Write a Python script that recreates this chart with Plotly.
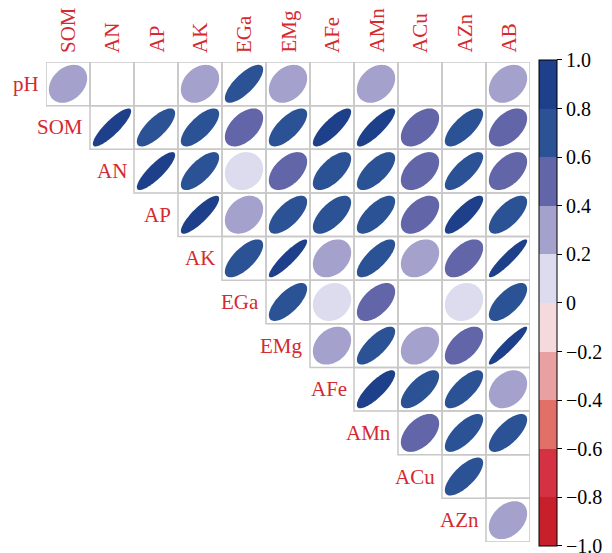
import numpy as np
import plotly.graph_objects as go

# Variables on the two axes of the upper-triangular correlation matrix
row_vars = ["pH", "SOM", "AN", "AP", "AK", "EGa", "EMg", "AFe", "AMn", "ACu", "AZn"]
col_vars = ["SOM", "AN", "AP", "AK", "EGa", "EMg", "AFe", "AMn", "ACu", "AZn", "AB"]

# Correlation coefficients for each row (None = not significant, left blank)
r_pH  = [0.30, None, None, 0.30, 0.75, 0.30, None, 0.30, None, None, 0.30]
r_SOM = [0.86, 0.75, 0.72, 0.50, 0.70, 0.82, 0.85, 0.50, 0.72, 0.48]
r_AN  = [0.85, 0.72, 0.12, 0.50, 0.65, 0.68, 0.48, 0.75, 0.50]
r_AP  = [0.85, 0.30, 0.68, 0.65, 0.70, 0.50, 0.82, 0.68]
r_AK  = [0.70, 0.90, 0.30, 0.75, 0.30, 0.55, 0.92]
r_EGa = [0.70, 0.15, 0.55, None, 0.15, 0.68]
r_EMg = [0.30, 0.75, 0.30, 0.55, 0.93]
r_AFe = [0.82, 0.70, 0.72, 0.30]
r_AMn = [0.50, 0.72, 0.70]
r_ACu = [0.72, None]
r_AZn = [0.35]
rows = [r_pH, r_SOM, r_AN, r_AP, r_AK, r_EGa, r_EMg, r_AFe, r_AMn, r_ACu, r_AZn]

# Ten-step diverging palette, from -1 (red) to +1 (navy)
bin_colors = ["#C8202A", "#D43242", "#E07068", "#E8A0A0", "#F4DADC",
              "#DCDCEE", "#A4A2CC", "#6266A8", "#2A5294", "#1E408A"]
cbar_ticks = [-0.9999, -0.8, -0.6, -0.4, -0.2, 0.0, 0.2, 0.4, 0.6, 0.8, 0.9999]
cbar_labels = ["\u22121.0", "\u22120.8", "\u22120.6", "\u22120.4", "\u22120.2", "0",
               "0.2", "0.4", "0.6", "0.8", "1.0"]

LABEL_RED = "#D42A30"
FONT = "Liberation Serif, Times New Roman, serif"


def color_for(r):
    k = int(np.floor((r + 1) / 0.2))
    return bin_colors[min(max(k, 0), 9)]


def ellipse_path(cx, cy, rho, scale=0.87, n=80):
    d = np.arccos(rho) / 2
    t = np.linspace(0, 2 * np.pi, n)
    ex = cx + scale * np.cos(t + d) / 2
    ey = cy - scale * np.cos(t - d) / 2  # y axis runs downward
    pts = " L ".join(f"{a:.4f},{b:.4f}" for a, b in zip(ex, ey))
    return "M " + pts + " Z"


shapes = []
annotations = []
for ri, vals in enumerate(rows):
    for k, v in enumerate(vals):
        ci = ri + k
        shapes.append(dict(type="rect", xref="x", yref="y",
                           x0=ci - 0.5, x1=ci + 0.5, y0=ri - 0.5, y1=ri + 0.5,
                           line=dict(color="#C8C8C8", width=1.5),
                           fillcolor="rgba(0,0,0,0)", layer="below"))
        if v is not None:
            shapes.append(dict(type="path", xref="x", yref="y",
                               path=ellipse_path(ci, ri, v),
                               fillcolor=color_for(v), line=dict(width=0),
                               layer="above"))
    # row label to the left of the first cell of the row
    annotations.append(dict(x=ri - 0.5, y=ri, xref="x", yref="y",
                            text=row_vars[ri], showarrow=False,
                            xanchor="right", yanchor="middle", xshift=-5,
                            font=dict(family=FONT, size=21, color=LABEL_RED)))

for ci, name in enumerate(col_vars):
    annotations.append(dict(x=ci, y=-0.5, xref="x", yref="y",
                            text=name, showarrow=False, textangle=-90,
                            xanchor="center", yanchor="bottom", yshift=7,
                            font=dict(family=FONT, size=21, color=LABEL_RED)))

colorscale = []
for k, c in enumerate(bin_colors):
    colorscale.append([k / 10, c])
    colorscale.append([(k + 1) / 10, c])

fig = go.Figure()
fig.add_trace(go.Scatter(
    x=[None, None], y=[None, None], mode="markers", hoverinfo="skip",
    marker=dict(color=[-1, 1], cmin=-1, cmax=1, colorscale=colorscale,
                showscale=True,
                colorbar=dict(x=1.0186, xanchor="left", xpad=0, ypad=0,
                              y=0.498, yanchor="middle",
                              lenmode="pixels", len=486,
                              thicknessmode="pixels", thickness=18,
                              outlinewidth=1, outlinecolor="black",
                              ticks="outside", ticklen=5, tickcolor="black",
                              ticklabeloverflow="allow",
                              tickvals=cbar_ticks, ticktext=cbar_labels,
                              tickfont=dict(family=FONT, size=20, color="black"))),
    showlegend=False))

fig.update_layout(
    width=612, height=553, autosize=False,
    margin=dict(l=46, r=82, t=62, b=7),
    paper_bgcolor="white", plot_bgcolor="white",
    xaxis=dict(range=[-0.5, 10.5], visible=False, fixedrange=True),
    yaxis=dict(range=[10.5, -0.5], visible=False, fixedrange=True),
    shapes=shapes, annotations=annotations,
)

fig.write_html("out.html")
